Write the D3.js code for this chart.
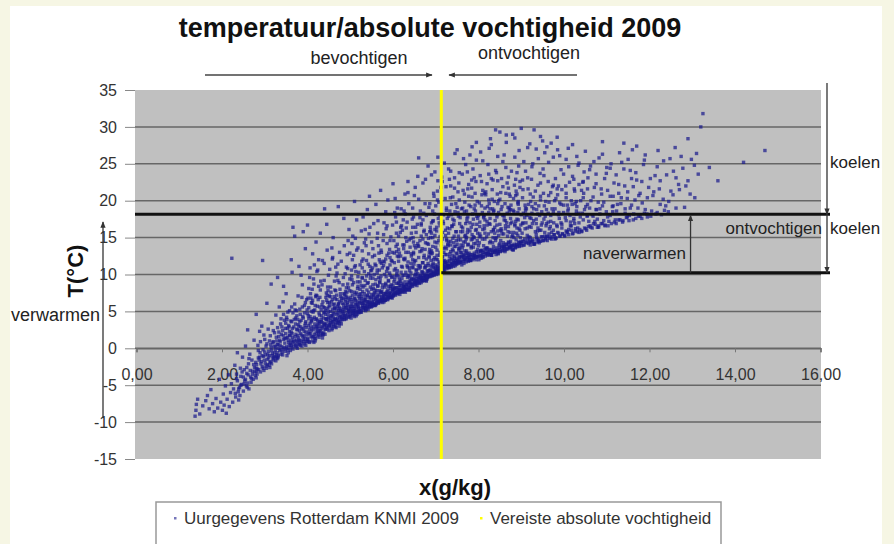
<!DOCTYPE html>
<html><head><meta charset="utf-8">
<script src="https://cdn.jsdelivr.net/npm/d3@7"></script>
<style>body{margin:0;background:#f6f6e4}svg{display:block}</style>
</head><body><svg id="c" width="894" height="544"></svg>
<script>
const yTicks = [-15,-10,-5,0,5,10,15,20,25,30,35];
const xTicks = [0,2,4,6,8,10,12,14,16];
const vereisteX = 7.13;      // vereiste absolute vochtigheid (g/kg)
const grensBoven = 18.16;    // °C
const grensOnder = 10.24;    // °C
const naverwarmenX = 12.96;  // g/kg, positie pijl
// Uurgegevens Rotterdam KNMI 2009, as flat pairs: x (g/kg), T (°C)
const uurXT = [
1.37,-9.2,1.39,-8.4,1.4,-7.6,1.43,-6.9,1.48,-8.9,1.55,-7.8,
1.62,-7.1,1.66,-6.4,1.7,-8.2,1.74,-5.6,1.78,-7.5,1.82,-8.6,1.86,-6.8,1.9,-8.1,1.94,-4.2,1.97,-7.3,
2.01,-8.4,2.03,-6.2,2.05,-7.7,2.08,-5.1,2.1,-8.8,2.12,-6.9,2.15,-3.6,2.17,-7.9,2.2,-6.0,2.22,-4.8,2.25,-7.3,2.27,-5.5,2.3,-2.3,2.32,-6.6,2.34,-4.1,2.36,-0.6,2.38,-5.9,2.39,-7.0,2.23,12.2,
2.41,-5.3,2.42,-6.4,2.44,-3.8,2.46,-4.9,2.48,-1.2,2.5,-5.8,2.52,-2.9,2.53,-4.4,2.55,0.3,2.57,-5.1,2.58,-3.4,2.6,-4.7,2.62,-2.1,2.63,-5.5,2.65,-0.8,2.67,-3.9,2.68,-4.6,2.7,-1.6,2.72,-3.1,2.73,-4.2,2.75,1.1,2.76,-2.6,2.78,-3.7,2.79,-1.9,2.8,-4.0,
2.81,-2.2,2.82,-3.5,2.84,0.4,2.85,-1.3,2.86,-2.9,2.88,2.3,2.89,-0.6,2.9,-3.2,2.92,-1.8,2.93,3.0,2.94,-2.5,2.96,-0.2,2.97,-1.1,2.98,-3.0,3.0,1.2,3.01,-2.0,3.02,-0.9,3.04,-2.7,3.05,0.6,3.06,-1.5,3.08,2.6,3.09,-0.4,3.1,-2.3,3.11,-1.0,3.13,1.7,3.14,-1.8,3.15,0.1,3.16,-2.1,3.17,3.4,3.18,-0.7,3.19,-1.4,3.2,0.9,2.95,11.9,3.12,-2.6,2.87,-1.6,
3.21,-1.6,3.22,0.3,3.23,2.1,3.24,-1.1,3.25,-0.2,3.26,4.5,3.27,-1.3,3.28,1.0,3.29,-0.6,3.3,2.8,3.31,0.5,3.32,-1.0,3.33,1.6,3.34,5.6,3.35,-0.3,3.36,0.9,3.37,3.3,3.38,-0.8,3.39,1.9,3.4,0.2,3.41,-0.5,3.42,2.4,3.43,6.3,3.44,1.2,3.45,-0.1,3.46,3.8,3.47,0.7,3.48,-0.4,3.49,2.0,3.5,1.4,3.51,4.2,3.52,0.0,3.53,2.7,3.54,-0.2,3.55,1.1,3.56,3.1,3.57,0.4,3.58,5.1,3.59,1.7,3.6,0.6,3.44,8.4,3.52,-1.0,3.3,-1.4,3.38,4.0,3.58,2.3,
3.61,0.1,3.62,2.2,3.63,3.6,3.64,0.8,3.65,1.5,3.66,16.4,3.66,4.8,3.67,0.3,3.68,2.9,3.69,1.1,3.7,6.0,3.71,0.6,3.72,3.3,3.73,1.9,3.74,0.2,3.75,4.4,3.76,2.5,3.77,0.9,3.78,7.1,3.79,1.4,3.8,3.0,3.81,0.5,3.82,5.3,3.83,2.0,3.84,1.0,3.85,3.8,3.86,0.7,3.87,2.6,3.88,8.6,3.89,1.6,3.9,4.1,3.91,0.9,3.92,2.3,3.93,5.8,3.94,1.3,3.95,3.4,3.96,0.4,3.97,2.8,3.98,6.6,3.99,1.8,4.0,4.7,3.7,15.2,3.64,10.3,3.85,9.9,3.93,0.6,3.62,1.1,3.77,3.9,3.81,2.4,3.9,1.2,3.96,3.6,3.71,5.2,3.87,6.9,3.99,0.9,3.75,1.1,3.83,4.6,
4.01,1.2,4.02,3.1,4.03,5.5,4.04,2.0,4.05,0.8,4.06,4.3,4.07,7.4,4.08,1.6,4.09,3.6,4.1,2.4,4.11,6.1,4.12,1.0,4.13,4.9,4.14,2.9,4.15,8.7,4.16,1.9,4.17,3.3,4.18,5.8,4.19,1.3,4.2,2.6,4.21,4.0,4.22,10.4,4.23,1.7,4.24,3.8,4.25,6.6,4.26,2.2,4.27,1.5,4.28,4.5,4.29,3.0,4.3,7.9,4.31,1.8,4.32,5.2,4.33,2.7,4.34,3.5,4.35,1.4,4.36,6.3,4.37,4.1,4.38,2.1,4.39,9.2,4.4,3.2,4.3,15.6,4.12,12.8,4.05,2.6,4.11,4.0,4.17,1.4,4.24,2.3,4.29,5.6,4.34,2.0,4.38,4.8,4.08,6.8,4.2,7.2,4.27,3.4,4.36,1.9,4.02,4.4,4.14,5.1,4.22,2.9,4.32,3.9,4.4,5.5,4.16,11.3,4.26,8.4,
4.41,2.6,4.42,4.6,4.43,6.9,4.44,3.1,4.45,2.8,4.46,5.4,4.47,8.3,4.48,3.7,4.49,4.2,4.5,2.9,4.51,6.2,4.52,10.7,4.53,3.4,4.54,5.0,4.55,7.6,4.56,3.0,4.57,4.4,4.58,12.1,4.59,3.6,4.6,5.9,4.61,3.2,4.62,4.8,4.63,9.1,4.64,3.9,4.65,6.7,4.66,3.3,4.67,5.3,4.68,7.2,4.69,3.5,4.7,4.1,4.71,11.4,4.72,3.8,4.73,6.0,4.74,4.5,4.75,3.4,4.76,8.0,4.77,5.1,4.78,3.7,4.79,6.5,4.8,4.0,4.45,4.0,4.5,5.6,4.55,3.5,4.6,4.3,4.65,2.9,4.7,5.7,4.75,6.3,4.48,7.8,4.58,6.6,4.68,4.6,4.78,4.9,4.43,3.3,4.53,4.1,4.63,5.4,4.73,3.6,4.57,13.6,4.72,19.2,4.62,7.0,4.52,3.2,4.42,5.1,4.67,9.8,4.77,7.0,4.47,6.2,4.61,3.9,4.74,5.5,
4.81,4.2,4.82,6.1,4.83,8.6,4.84,4.7,4.85,5.5,4.86,3.9,4.87,7.3,4.88,10.1,4.89,4.4,4.9,5.8,4.91,4.0,4.92,6.9,4.93,12.7,4.94,4.8,4.95,5.2,4.96,8.2,4.97,4.3,4.98,6.4,4.99,9.4,5.0,4.6,5.01,5.7,5.02,4.1,5.03,7.7,5.04,14.2,5.05,5.0,5.06,6.3,5.07,4.5,5.08,8.9,5.09,5.4,5.1,4.3,5.11,6.8,5.12,11.2,5.13,4.9,5.14,5.9,5.15,7.5,5.16,4.6,5.17,6.0,5.18,9.7,5.19,5.3,5.2,4.8,4.84,5.9,4.9,7.1,4.96,5.1,5.02,6.6,5.08,5.6,5.14,4.4,5.2,7.0,4.87,4.5,4.93,6.2,4.99,4.9,5.05,7.2,5.11,5.1,5.17,8.1,4.82,5.0,4.88,6.6,4.94,8.7,5.0,5.4,5.06,4.7,5.12,6.5,5.18,5.7,4.97,16.1,5.1,19.9,5.03,10.6,4.91,5.5,5.15,13.3,
5.21,5.0,5.22,6.8,5.23,9.0,5.24,5.4,5.25,7.4,5.26,4.9,5.27,11.8,5.28,6.1,5.29,5.6,5.3,8.3,5.31,5.2,5.32,6.5,5.33,10.4,5.34,5.8,5.35,7.0,5.36,5.1,5.37,13.9,5.38,6.3,5.39,5.5,5.4,8.8,5.41,6.0,5.42,5.3,5.43,7.6,5.44,15.5,5.45,6.4,5.46,5.7,5.47,9.5,5.48,6.9,5.49,5.6,5.5,8.0,5.51,6.2,5.52,12.4,5.53,5.9,5.54,7.2,5.55,6.6,5.56,10.0,5.57,6.0,5.58,7.9,5.59,5.8,5.6,9.3,5.23,6.1,5.29,7.7,5.35,5.4,5.41,7.1,5.47,6.0,5.53,8.6,5.59,6.7,5.26,8.5,5.32,5.5,5.38,9.8,5.44,6.2,5.5,5.8,5.56,7.5,5.22,5.1,5.28,10.9,5.34,6.6,5.4,5.7,5.46,11.1,5.52,6.3,5.58,5.9,5.3,17.8,5.45,20.6,5.36,14.8,5.55,16.9,5.25,6.4,
5.61,6.0,5.62,7.8,5.63,10.2,5.64,6.4,5.65,8.5,5.66,6.1,5.67,12.9,5.68,7.1,5.69,6.6,5.7,9.4,5.71,6.3,5.72,7.6,5.73,11.5,5.74,6.8,5.75,8.2,5.76,6.2,5.77,14.6,5.78,7.4,5.79,6.7,5.8,10.0,5.81,7.0,5.82,6.5,5.83,8.8,5.84,16.2,5.85,7.3,5.86,6.6,5.87,10.8,5.88,7.9,5.89,6.8,5.9,9.1,5.91,7.2,5.92,13.4,5.93,6.9,5.94,8.4,5.95,7.6,5.96,11.9,5.97,6.9,5.98,9.7,5.99,7.1,6.0,8.1,5.63,7.0,5.69,8.9,5.75,6.5,5.81,8.3,5.87,7.0,5.93,9.9,5.99,7.7,5.66,9.6,5.72,6.4,5.78,11.2,5.84,7.5,5.9,6.9,5.96,8.6,5.62,6.2,5.68,12.0,5.74,7.7,5.8,6.5,5.86,12.6,5.92,7.4,5.98,6.8,5.71,21.4,6.0,22.3,5.83,18.5,5.95,15.1,5.65,17.3,
6.01,7.1,6.02,9.0,6.03,11.6,6.04,7.5,6.05,9.7,6.06,7.2,6.07,13.8,6.08,8.2,6.09,7.7,6.1,10.5,6.11,7.4,6.12,8.8,6.13,12.4,6.14,7.9,6.15,9.3,6.16,7.3,6.17,15.7,6.18,8.5,6.19,7.8,6.2,11.1,6.21,8.1,6.22,7.6,6.23,9.9,6.24,17.4,6.25,8.4,6.26,7.7,6.27,12.0,6.28,9.0,6.29,7.9,6.3,10.3,6.31,8.3,6.32,14.5,6.33,8.0,6.34,9.6,6.35,8.7,6.36,13.0,6.37,8.0,6.38,10.9,6.39,8.2,6.4,9.2,6.03,8.1,6.09,10.1,6.15,7.6,6.21,9.5,6.27,8.1,6.33,11.2,6.39,8.9,6.06,10.8,6.12,7.5,6.18,12.5,6.24,8.6,6.3,8.0,6.36,9.8,6.02,7.3,6.08,13.1,6.14,8.9,6.2,7.7,6.26,14.0,6.32,8.6,6.38,7.9,6.1,19.0,6.35,21.1,6.2,16.6,6.29,18.2,6.05,20.3,
6.41,8.3,6.42,10.2,6.43,12.8,6.44,8.7,6.45,11.0,6.46,8.4,6.47,15.0,6.48,9.4,6.49,8.9,6.5,11.8,6.51,8.6,6.52,10.0,6.53,13.6,6.54,9.1,6.55,10.6,6.56,8.5,6.57,16.8,6.58,9.7,6.59,9.0,6.6,12.3,6.61,9.3,6.62,8.8,6.63,11.2,6.64,18.6,6.65,9.6,6.66,8.9,6.67,13.2,6.68,10.3,6.69,9.1,6.7,11.6,6.71,9.5,6.72,15.8,6.73,9.2,6.74,10.9,6.75,9.9,6.76,14.3,6.77,9.2,6.78,12.1,6.79,9.4,6.8,10.5,6.43,9.3,6.49,11.4,6.55,8.8,6.61,10.8,6.67,9.3,6.73,12.6,6.79,10.1,6.46,12.0,6.52,8.7,6.58,13.9,6.64,9.8,6.7,9.2,6.76,11.0,6.42,8.5,6.48,14.4,6.54,10.1,6.6,8.9,6.66,15.2,6.72,9.8,6.78,9.1,6.6,25.8,6.5,20.7,6.7,22.4,6.45,17.5,6.75,19.6,
6.81,9.6,6.82,11.5,6.83,14.1,6.84,9.9,6.85,12.3,6.86,9.7,6.87,16.4,6.88,10.6,6.89,10.1,6.9,13.2,6.91,9.8,6.92,11.3,6.93,15.0,6.94,10.4,6.95,12.0,6.96,9.9,6.97,18.2,6.98,11.0,6.99,10.2,7.0,13.7,7.01,10.5,7.02,10.0,7.03,12.6,7.04,20.1,7.05,10.8,7.06,10.1,7.07,14.6,7.08,11.7,7.09,10.3,7.1,13.0,7.11,10.7,7.12,17.1,7.13,10.4,7.14,12.2,7.15,11.2,7.16,15.7,7.17,10.5,7.18,13.5,7.19,10.6,7.2,11.9,6.83,10.5,6.89,12.8,6.95,10.0,7.01,12.1,7.07,10.6,7.13,14.0,7.19,11.4,6.86,13.4,6.92,9.9,6.98,15.3,7.04,11.1,7.1,10.5,7.16,12.4,6.82,9.8,6.88,16.0,6.94,11.5,7.0,10.1,7.06,17.6,7.12,11.2,7.18,10.4,6.9,23.5,7.05,25.9,6.95,21.0,7.15,22.6,7.0,19.3,
7.21,10.6,7.22,12.7,7.23,15.3,7.24,11.0,7.25,13.5,7.26,10.8,7.27,17.6,7.28,11.8,7.29,11.2,7.3,14.4,7.31,10.9,7.32,12.4,7.33,16.2,7.34,11.5,7.35,13.1,7.36,11.0,7.37,19.5,7.38,12.1,7.39,11.3,7.4,14.9,7.41,11.6,7.42,11.1,7.43,13.8,7.44,21.7,7.45,11.9,7.46,11.2,7.47,15.8,7.48,12.9,7.49,11.4,7.5,14.1,7.51,11.8,7.52,18.4,7.53,11.5,7.54,13.3,7.55,12.3,7.56,16.9,7.57,11.6,7.58,14.7,7.59,11.7,7.6,13.0,7.23,11.7,7.29,13.9,7.35,11.1,7.41,13.2,7.47,11.7,7.53,15.2,7.59,12.5,7.26,14.6,7.32,11.0,7.38,16.6,7.44,12.2,7.5,11.6,7.56,13.6,7.3,24.3,7.45,26.4,7.35,22.0,7.55,23.8,7.4,20.5,7.25,18.7,7.5,19.1,
7.61,11.3,7.62,13.6,7.63,16.3,7.64,11.8,7.65,14.4,7.66,11.5,7.67,18.5,7.68,12.6,7.69,12.0,7.7,15.3,7.71,11.7,7.72,13.2,7.73,17.2,7.74,12.3,7.75,14.0,7.76,11.8,7.77,20.6,7.78,12.9,7.79,12.1,7.8,15.9,7.81,12.4,7.82,11.9,7.83,14.7,7.84,22.8,7.85,12.7,7.86,12.0,7.87,16.8,7.88,13.7,7.89,12.2,7.9,15.0,7.91,12.6,7.92,19.4,7.93,12.3,7.94,14.2,7.95,13.1,7.96,17.9,7.97,12.4,7.98,15.6,7.99,12.5,8.0,13.9,7.65,12.4,7.71,14.8,7.77,11.9,7.83,13.8,7.89,12.5,7.95,16.1,7.68,19.8,7.74,15.7,7.8,12.0,7.86,18.2,7.7,24.9,7.85,27.3,7.75,21.6,7.95,25.5,7.9,23.1,
8.01,12.0,8.02,14.3,8.03,17.1,8.04,12.5,8.05,15.2,8.06,12.2,8.07,19.3,8.08,13.3,8.09,12.7,8.1,16.1,8.11,12.4,8.12,13.9,8.13,18.0,8.14,13.0,8.15,14.8,8.16,12.5,8.17,21.2,8.18,13.6,8.19,12.8,8.2,16.7,8.21,13.1,8.22,12.6,8.23,15.5,8.24,23.6,8.25,13.4,8.26,12.7,8.27,17.6,8.28,14.5,8.29,12.9,8.3,15.8,8.31,13.3,8.32,20.2,8.33,13.0,8.34,15.0,8.35,13.8,8.36,18.7,8.37,13.1,8.38,16.4,8.39,13.2,8.4,14.6,8.05,13.2,8.15,17.4,8.25,19.6,8.35,16.0,8.1,25.4,8.3,27.6,8.2,22.3,8.4,24.1,8.08,20.8,8.28,28.4,
8.41,12.7,8.42,15.0,8.43,17.8,8.44,13.2,8.45,15.9,8.46,12.9,8.47,20.0,8.48,14.0,8.49,13.4,8.5,16.8,8.51,13.1,8.52,14.6,8.53,18.8,8.54,13.7,8.55,15.5,8.56,13.2,8.57,21.9,8.58,14.3,8.59,13.5,8.6,17.4,8.61,13.8,8.62,13.3,8.63,16.2,8.64,24.5,8.65,14.1,8.66,13.4,8.67,18.3,8.68,15.2,8.69,13.6,8.7,16.5,8.71,14.0,8.72,20.9,8.73,13.7,8.74,15.7,8.75,14.5,8.76,19.4,8.77,13.8,8.78,17.1,8.79,13.9,8.8,15.3,8.5,29.3,8.6,26.2,8.7,23.2,8.45,22.7,8.65,27.9,
8.81,13.3,8.82,15.7,8.83,18.5,8.84,13.9,8.85,16.6,8.86,13.6,8.87,20.7,8.88,14.7,8.89,14.1,8.9,17.5,8.91,13.8,8.92,15.3,8.93,19.5,8.94,14.4,8.95,16.2,8.96,13.9,8.97,22.6,8.98,15.0,8.99,14.2,9.0,18.1,9.02,14.5,9.04,17.0,9.06,25.3,9.08,14.8,9.1,19.0,9.12,14.3,9.14,16.3,9.16,21.6,9.18,15.1,9.2,17.7,8.85,28.5,9.0,29.8,8.95,26.8,9.1,24.0,9.15,27.2,8.9,23.8,9.05,14.0,9.19,14.4,8.88,21.3,9.03,20.4,
9.21,14.0,9.23,16.4,9.25,19.2,9.27,14.5,9.29,17.3,9.31,14.2,9.33,21.3,9.35,15.4,9.37,14.8,9.39,18.2,9.41,14.5,9.43,16.0,9.45,20.1,9.47,15.1,9.49,17.0,9.51,14.6,9.53,23.4,9.55,15.7,9.57,14.9,9.59,18.8,9.6,15.2,9.3,29.6,9.5,28.1,9.4,25.7,9.55,26.5,9.25,24.6,9.45,22.4,9.35,27.0,9.22,19.9,9.42,14.3,9.58,16.6,9.28,20.5,9.48,18.5,9.38,15.9,9.52,21.0,
9.61,14.6,9.63,17.1,9.65,19.8,9.67,15.1,9.69,18.0,9.71,14.8,9.73,21.9,9.75,16.0,9.77,15.4,9.79,18.9,9.81,15.0,9.83,16.7,9.85,20.8,9.87,15.6,9.89,17.6,9.91,15.2,9.93,24.2,9.95,16.3,9.97,15.5,9.99,19.4,9.7,27.8,9.9,26.1,9.8,23.0,9.64,25.2,9.84,28.6,9.75,22.1,9.95,21.5,9.68,16.5,9.88,18.4,9.78,20.0,
10.01,15.2,10.03,17.7,10.05,20.4,10.07,15.7,10.09,18.6,10.11,15.4,10.13,22.5,10.15,16.6,10.17,16.0,10.19,19.5,10.21,15.6,10.23,17.3,10.25,21.3,10.27,16.2,10.29,18.2,10.31,15.8,10.33,24.8,10.35,17.0,10.37,16.1,10.39,20.0,10.1,27.1,10.3,26.0,10.2,23.3,10.05,25.6,10.35,22.2,
10.41,15.8,10.43,18.3,10.46,21.0,10.48,16.3,10.51,19.2,10.53,16.0,10.56,23.1,10.58,17.2,10.61,16.6,10.63,20.0,10.66,16.3,10.68,17.9,10.71,21.8,10.73,16.8,10.76,18.8,10.78,16.4,10.5,26.7,10.7,25.3,10.6,24.2,10.45,22.6,10.75,23.6,10.55,18.0,
10.81,16.4,10.84,18.9,10.87,21.6,10.9,16.9,10.93,19.8,10.96,16.6,10.99,23.7,11.02,17.8,11.05,17.2,11.08,20.6,11.11,16.9,11.14,18.5,11.17,22.4,11.2,17.4,10.9,26.3,11.1,25.0,11.0,24.5,11.15,19.3,
11.22,16.9,11.25,19.5,11.28,22.2,11.31,17.4,11.34,20.4,11.37,17.1,11.4,24.3,11.43,18.3,11.46,17.7,11.49,21.2,11.52,17.3,11.55,19.0,11.58,23.0,11.3,26.5,11.5,25.6,
11.62,17.4,11.66,20.1,11.7,22.8,11.74,17.9,11.78,21.0,11.82,17.6,11.86,24.9,11.9,18.8,11.94,18.2,11.98,21.8,11.7,27.4,11.9,26.2,
12.03,17.9,12.08,20.7,12.13,23.4,12.18,18.4,12.23,21.6,12.28,18.1,12.33,25.4,12.38,19.3,
12.44,18.5,12.5,21.3,12.56,24.0,12.62,19.0,12.68,22.2,12.74,26.0,
12.82,19.1,12.9,22.7,12.98,25.6,13.06,20.4,13.14,23.6,13.2,30.0,13.25,31.8,
13.4,24.5,13.6,22.7,14.2,25.2,14.7,26.8,
2.31,-6.1,2.44,-5.0,2.36,-4.4,2.52,-4.8,2.61,-3.6,2.47,-3.2,2.69,-4.1,2.74,-2.2,2.58,-2.6,2.66,-3.0,2.39,-5.5,2.55,-4.2,2.77,-3.2,2.43,-2.7,2.63,-1.4,2.71,-3.5,2.34,-3.5,2.5,-3.9,2.8,-2.7,2.59,-5.3,
2.83,-2.8,2.91,-2.1,2.85,-0.3,2.99,-1.6,3.03,-2.4,2.94,-1.0,3.07,-0.8,3.12,-1.9,3.16,-0.3,3.21,-1.2,3.25,0.2,3.19,0.8,3.28,-0.9,3.03,0.3,2.88,-1.2,2.96,-2.7,3.09,-1.3,3.14,0.5,3.23,-0.6,3.27,1.5,2.81,-3.1,2.9,0.9,3.0,-0.5,3.06,-2.2,3.18,-1.0,3.11,1.0,3.26,-1.7,2.98,1.8,3.2,2.4,3.29,0.5,
3.31,-1.2,3.36,0.4,3.42,-0.9,3.47,1.3,3.33,2.2,3.51,0.2,3.55,-0.6,3.58,1.8,3.62,0.4,3.66,-0.1,3.71,1.6,3.75,2.6,3.79,0.6,3.35,1.1,3.4,2.9,3.45,0.1,3.49,3.4,3.53,1.5,3.57,2.9,3.61,3.7,3.64,2.0,3.68,0.9,3.72,4.1,3.76,0.0,3.78,3.2,3.32,0.0,3.38,-0.2,3.43,1.7,3.48,2.7,3.52,3.9,3.56,0.8,3.6,-0.3,3.65,2.7,3.69,3.9,3.73,0.4,3.77,1.7,3.44,4.6,3.54,4.9,3.63,5.6,3.74,5.1,
3.81,1.1,3.84,2.9,3.87,0.3,3.89,4.3,3.92,1.7,3.94,3.1,3.97,0.9,3.99,5.2,4.02,2.2,4.04,0.9,4.06,3.4,4.09,5.0,4.11,1.5,4.13,2.6,4.16,4.2,4.18,1.0,4.21,3.0,4.23,5.7,4.26,1.9,4.28,3.6,3.82,3.6,3.86,1.8,3.9,2.7,3.93,4.8,3.96,2.2,4.0,1.3,4.03,4.0,4.07,2.0,4.1,3.8,4.14,1.6,4.17,5.2,4.2,2.1,4.24,3.3,4.27,4.8,4.29,2.4,3.83,0.4,3.88,5.6,3.95,6.2,4.01,6.8,4.08,2.9,4.12,6.5,4.19,3.9,4.22,7.1,4.25,2.7,4.15,0.8,
4.31,2.3,4.33,4.4,4.35,2.9,4.37,5.6,4.39,3.4,4.41,1.9,4.43,4.0,4.45,6.5,4.47,2.6,4.49,5.0,4.51,3.1,4.53,7.0,4.55,4.4,4.57,2.5,4.59,5.3,4.61,3.6,4.63,6.0,4.65,4.0,4.67,2.8,4.69,6.6,4.71,3.4,4.73,5.1,4.75,4.2,4.77,7.4,4.79,3.3,4.32,3.6,4.34,5.9,4.36,1.8,4.38,3.1,4.4,4.9,4.42,2.6,4.44,3.9,4.46,7.2,4.48,4.6,4.5,2.4,4.52,5.8,4.54,3.8,4.56,6.3,4.58,2.7,4.6,4.7,4.62,3.0,4.64,5.5,4.66,7.8,4.68,3.8,4.7,4.8,4.72,6.0,4.74,3.0,4.76,5.4,4.78,4.3,4.8,6.8,
4.81,3.9,4.83,5.3,4.85,7.4,4.87,4.2,4.89,6.3,4.91,8.2,4.93,4.5,4.95,6.7,4.97,5.0,4.99,7.8,5.01,4.4,5.03,6.0,5.05,8.6,5.07,5.1,5.09,6.7,5.11,4.6,5.13,7.3,5.15,5.5,5.17,9.0,5.19,4.9,5.21,6.2,5.23,8.0,5.25,5.1,5.27,7.0,5.29,5.8,4.82,4.5,4.84,6.8,4.86,5.0,4.88,4.0,4.9,5.4,4.92,7.6,4.94,5.9,4.96,4.2,4.98,5.6,5.0,6.9,5.02,5.3,5.04,9.3,5.06,5.7,5.08,4.8,5.1,7.6,5.12,6.0,5.14,5.0,5.16,6.4,5.18,8.4,5.2,5.6,5.22,7.3,5.24,4.9,5.26,6.7,5.28,9.6,5.3,6.1,
5.31,5.5,5.33,7.4,5.35,9.2,5.37,5.8,5.39,7.9,5.41,6.3,5.43,10.1,5.45,5.6,5.47,8.3,5.49,6.8,5.51,5.7,5.53,9.5,5.55,7.0,5.57,6.1,5.59,8.7,5.61,6.5,5.63,10.6,5.65,7.3,5.67,6.2,5.69,9.0,5.71,7.6,5.73,6.6,5.75,10.9,5.77,7.2,5.79,6.3,5.32,6.2,5.34,8.5,5.36,6.6,5.38,5.3,5.4,7.2,5.42,8.9,5.44,6.9,5.46,5.9,5.48,10.5,5.5,7.3,5.52,6.0,5.54,8.1,5.56,5.8,5.58,7.5,5.6,11.2,5.62,6.9,5.64,8.4,5.66,6.4,5.68,7.8,5.7,6.5,5.72,9.8,5.74,7.0,5.76,8.6,5.78,6.9,5.8,11.7,
5.81,6.6,5.83,8.6,5.85,10.4,5.87,6.9,5.89,9.2,5.91,7.5,5.93,11.3,5.95,7.0,5.97,9.6,5.99,8.0,6.01,7.3,6.03,10.6,6.05,8.2,6.07,7.4,6.09,9.9,6.11,7.9,6.13,11.8,6.15,8.5,6.17,7.7,6.19,10.3,6.21,8.8,6.23,7.9,6.25,12.1,6.27,8.4,6.29,7.6,5.82,7.4,5.84,9.7,5.86,7.7,5.88,6.6,5.9,8.4,5.92,10.2,5.94,8.1,5.96,7.2,5.98,11.8,6.0,8.5,6.02,7.9,6.04,9.3,6.06,7.6,6.08,8.8,6.1,12.5,6.12,8.2,6.14,9.7,6.16,8.0,6.18,9.1,6.2,7.9,6.22,11.0,6.24,8.3,6.26,9.9,6.28,8.1,6.3,13.0,
6.31,7.9,6.33,9.9,6.35,11.7,6.37,8.3,6.39,10.5,6.41,8.8,6.43,12.5,6.45,8.6,6.47,10.9,6.49,9.3,6.51,8.9,6.53,11.9,6.55,9.5,6.57,9.0,6.59,11.2,6.61,9.4,6.63,13.1,6.65,9.9,6.67,9.3,6.69,11.6,6.71,10.2,6.73,9.5,6.75,13.4,6.77,9.8,6.79,9.4,6.32,8.6,6.34,11.0,6.36,9.0,6.38,7.9,6.4,9.7,6.42,11.5,6.44,9.4,6.46,8.7,6.48,13.0,6.5,9.8,6.52,9.2,6.54,10.6,6.56,9.1,6.58,10.1,6.6,13.8,6.62,9.6,6.64,11.0,6.66,9.5,6.68,10.4,6.7,9.6,6.72,12.3,6.74,9.9,6.76,11.2,6.78,9.7,6.8,14.2,
6.81,9.7,6.83,11.2,6.85,13.0,6.87,10.0,6.89,11.9,6.91,10.3,6.93,13.8,6.95,10.2,6.97,12.3,6.99,10.8,7.01,10.4,7.03,13.3,7.05,11.0,7.07,10.5,7.09,12.6,7.11,10.9,7.13,14.5,7.15,11.3,7.17,10.9,7.19,13.0,7.21,11.6,7.23,11.1,7.25,14.8,7.27,11.4,7.29,11.0,6.82,10.4,6.84,12.5,6.86,10.6,6.88,9.8,6.9,11.1,6.92,12.9,6.94,10.9,6.96,10.1,6.98,14.4,7.0,11.3,7.02,10.6,7.04,12.0,7.06,10.3,7.08,11.5,7.1,15.1,7.12,11.0,7.14,12.4,7.16,10.8,7.18,11.8,7.2,11.0,7.22,13.7,7.24,11.5,7.26,12.7,7.28,11.2,7.3,15.6,6.86,15.8,7.02,16.4,7.18,16.9,6.94,17.3,7.1,18.0,
7.31,11.1,7.33,12.8,7.35,14.5,7.37,11.5,7.39,13.4,7.41,11.8,7.43,15.2,7.45,11.6,7.47,13.8,7.49,12.2,7.51,11.8,7.53,14.7,7.55,12.4,7.57,11.9,7.59,14.0,7.61,12.3,7.63,15.8,7.65,12.7,7.67,12.1,7.69,14.4,7.71,12.9,7.73,12.3,7.75,16.1,7.77,12.6,7.79,12.0,7.32,11.9,7.34,14.0,7.36,12.1,7.38,11.3,7.4,12.6,7.42,14.3,7.44,12.4,7.46,11.5,7.48,15.8,7.5,12.8,7.52,12.0,7.54,13.5,7.56,11.7,7.58,13.0,7.6,16.5,7.62,12.5,7.64,13.9,7.66,12.0,7.68,13.2,7.7,12.2,7.72,15.0,7.74,12.8,7.76,14.1,7.78,12.4,7.8,17.0,
7.81,11.9,7.83,13.6,7.85,15.4,7.87,12.3,7.89,14.2,7.91,12.6,7.93,16.0,7.95,12.4,7.97,14.6,7.99,13.0,8.01,12.5,8.03,15.5,8.05,13.1,8.07,12.6,8.09,14.8,8.11,13.0,8.13,16.6,8.15,13.4,8.17,12.8,8.19,15.1,8.21,13.6,8.23,13.0,8.25,16.9,8.27,13.3,8.29,12.7,7.82,12.7,7.86,14.8,7.9,12.9,7.94,12.0,7.98,13.4,8.02,15.1,8.06,13.2,8.1,12.3,8.14,16.2,8.18,13.5,8.22,12.8,8.26,14.3,8.3,12.6,7.88,17.5,8.0,18.0,8.12,17.7,8.24,18.4,7.96,16.8,8.2,17.2,
8.31,12.6,8.33,14.3,8.35,16.1,8.37,13.0,8.39,14.9,8.41,13.3,8.43,16.7,8.45,13.1,8.47,15.3,8.49,13.7,8.51,13.2,8.53,16.2,8.55,13.8,8.57,13.3,8.59,15.5,8.61,13.7,8.63,17.3,8.65,14.1,8.67,13.5,8.69,15.8,8.71,14.3,8.73,13.7,8.75,17.6,8.77,14.0,8.79,13.4,8.34,13.4,8.38,15.6,8.42,13.6,8.46,12.8,8.5,14.2,8.54,15.9,8.58,14.0,8.62,13.1,8.66,17.0,8.7,14.4,8.74,13.5,8.78,15.1,8.44,18.1,8.6,17.9,8.72,18.6,
8.81,13.4,8.83,15.0,8.85,16.8,8.87,13.7,8.89,15.6,8.91,14.0,8.93,17.4,8.95,13.8,8.97,16.0,8.99,14.4,9.01,13.9,9.03,16.9,9.05,14.5,9.07,14.0,9.09,16.2,9.11,14.4,9.13,18.0,9.15,14.8,9.17,14.2,9.19,16.5,9.21,15.0,9.23,14.4,9.25,18.3,9.27,14.7,9.29,14.1,8.84,14.1,8.9,16.3,8.96,14.3,9.02,15.6,9.08,17.7,9.14,15.3,9.2,14.6,9.26,16.9,8.92,18.4,9.1,18.6,
9.31,14.1,9.33,15.8,9.35,17.5,9.37,14.4,9.39,16.3,9.41,14.7,9.43,18.0,9.45,14.5,9.47,16.7,9.49,15.1,9.51,14.6,9.53,17.5,9.55,15.2,9.57,14.7,9.59,16.9,9.61,15.1,9.63,18.3,9.65,15.5,9.67,14.9,9.69,17.2,9.71,15.7,9.73,15.1,9.75,18.5,9.77,15.4,9.79,14.8,9.36,15.0,9.46,16.0,9.56,17.9,9.66,16.2,9.76,17.0,
9.81,14.9,9.84,16.5,9.87,18.1,9.9,15.2,9.93,17.0,9.96,15.5,9.99,18.4,10.02,15.3,10.05,17.3,10.08,15.8,10.11,16.1,10.14,18.0,10.17,16.6,10.2,15.5,10.23,17.6,10.26,15.9,10.29,18.6,10.32,16.3,10.35,15.7,10.38,17.8,9.85,15.7,9.95,16.8,10.05,15.9,10.15,17.1,10.25,16.9,10.35,18.3,10.1,18.9,10.3,19.2,
10.42,15.9,10.45,17.4,10.48,18.8,10.51,16.2,10.54,17.9,10.57,16.5,10.6,19.0,10.63,16.4,10.66,18.1,10.69,16.9,10.72,17.2,10.75,18.8,10.78,17.5,10.81,16.6,10.84,18.2,10.87,16.9,10.9,19.3,10.93,17.3,10.96,16.7,10.99,18.5,10.55,19.5,10.8,19.8,
11.03,16.6,11.08,18.0,11.13,19.2,11.18,17.1,11.23,18.6,11.28,17.4,11.33,19.6,11.38,17.3,11.43,18.9,11.48,17.8,11.53,18.0,11.58,19.4,11.63,18.2,11.68,17.6,11.73,19.0,11.78,17.9,11.83,19.7,11.88,18.3,11.95,17.8,12.05,18.6,12.15,18.2,12.25,19.5,12.35,18.7,12.45,19.9,
5.05,12.0,5.12,14.9,5.2,10.3,5.28,13.2,5.35,16.1,5.42,11.4,5.5,14.4,5.57,12.6,5.64,15.6,5.72,13.3,5.79,17.0,5.86,14.2,5.93,12.3,5.99,16.7,5.15,17.4,5.4,18.8,5.6,19.5,5.88,20.1,5.52,10.9,5.77,11.8,
6.02,14.6,6.08,17.1,6.13,15.2,6.19,18.9,6.25,13.5,6.31,16.3,6.37,19.6,6.42,14.9,6.48,17.8,6.54,15.7,6.6,20.2,6.66,16.9,6.72,18.3,6.78,15.4,6.84,19.1,6.9,17.0,6.96,20.6,6.04,18.4,6.28,20.9,6.52,21.8,6.76,22.9,6.98,23.9,6.15,12.9,6.4,13.7,6.63,14.6,6.88,15.0,6.22,16.0,6.46,16.4,6.7,17.4,6.93,18.6,6.35,22.6,6.82,24.7,6.58,23.3,
7.02,15.9,7.07,19.8,7.12,21.8,7.17,17.2,7.22,20.3,7.27,16.3,7.32,22.9,7.37,18.1,7.42,16.8,7.47,19.6,7.52,21.2,7.57,17.7,7.62,23.6,7.67,20.9,7.72,18.6,7.77,22.2,7.82,19.2,7.87,24.3,7.92,21.0,7.97,19.9,7.05,22.7,7.2,25.1,7.35,24.0,7.5,26.9,7.65,25.7,7.8,26.2,7.95,27.9,7.1,16.6,7.25,19.0,7.4,17.5,7.55,20.1,7.7,16.9,7.85,20.5,7.15,14.8,7.3,17.9,7.45,18.5,7.6,18.9,7.75,17.8,7.9,18.9,
8.02,19.7,8.07,22.6,8.12,17.9,8.17,20.8,8.22,24.9,8.27,18.9,8.32,21.5,8.37,19.9,8.42,23.8,8.47,18.4,8.52,21.1,8.57,25.3,8.62,19.6,8.67,22.4,8.72,19.0,8.77,24.0,8.82,20.3,8.87,22.9,8.92,19.7,8.97,21.8,8.05,26.6,8.25,27.1,8.45,26.0,8.65,28.9,8.85,25.9,8.15,19.0,8.35,18.5,8.55,19.2,8.75,18.8,8.95,18.9,8.1,21.4,8.3,23.0,8.5,20.2,8.7,21.7,8.9,20.9,8.4,29.6,8.8,29.0,
9.03,22.8,9.09,19.4,9.15,23.1,9.21,20.9,9.27,25.0,9.33,19.6,9.39,22.1,9.45,20.6,9.51,24.3,9.57,19.9,9.63,22.6,9.69,21.1,9.75,25.9,9.81,20.3,9.87,22.0,9.93,19.5,9.99,23.6,10.05,21.0,10.11,24.6,10.17,20.0,10.23,22.9,10.29,19.9,10.35,25.1,10.41,21.4,10.47,23.9,9.2,27.7,9.45,28.7,9.6,27.3,9.85,26.9,10.2,27.6,10.45,20.4,9.12,18.9,9.36,18.8,9.54,19.3,9.72,18.9,9.9,19.7,10.08,19.4,10.26,19.6,
10.55,21.6,10.62,24.7,10.68,20.5,10.75,22.3,10.82,25.8,10.88,20.9,10.95,23.0,11.02,21.4,11.08,24.4,11.15,20.6,11.22,23.5,11.28,21.0,11.35,25.2,11.42,22.0,11.48,20.3,11.55,24.1,11.62,21.9,11.68,23.8,11.75,20.7,11.82,22.6,11.88,25.5,11.95,20.4,12.02,23.0,12.1,21.2,12.18,24.6,12.25,22.7,12.32,20.2,12.4,23.5,12.48,25.7,12.55,20.8,12.62,23.1,12.7,21.5,12.78,24.4,12.85,22.0,12.95,20.9,13.05,24.8,12.6,27.2,12.2,26.8,11.6,26.9,13.1,26.4,12.9,28.4,11.4,27.8,10.9,28.0,
2.6,2.5,2.8,4.6,3.05,6.1,3.15,8.7,3.3,9.6,3.5,7.4,3.62,12.0,3.8,11.1,3.95,13.5,4.05,9.6,4.2,14.4,4.35,11.9,4.45,16.8,4.6,15.0,4.75,13.0,4.85,17.6,4.95,14.6,4.4,18.9,4.0,16.7,3.9,15.8,
4.03,8.1,4.09,6.2,4.14,9.4,4.19,7.0,4.24,10.6,4.29,6.9,4.34,8.6,4.39,11.5,4.44,7.5,4.49,9.9,4.54,8.3,4.59,12.3,4.64,7.9,4.69,10.2,4.74,8.9,4.79,11.8,4.84,9.6,4.89,7.7,4.94,10.8,4.99,12.9,4.06,10.9,4.26,12.0,4.46,13.3,4.66,11.0,4.86,13.9,4.11,8.0,4.31,9.1,4.51,7.1,4.71,9.2,4.91,11.0,
5.03,9.8,5.08,12.6,5.13,10.4,5.18,13.6,5.23,11.3,5.28,9.5,5.33,14.3,5.38,11.9,5.43,12.8,5.48,9.9,5.53,13.5,5.58,11.4,5.63,14.9,5.68,10.6,5.73,13.0,5.78,15.4,5.83,12.1,5.88,10.9,5.93,14.6,5.98,13.0,5.06,15.2,5.26,15.9,5.46,16.4,5.66,13.9,5.86,16.6,5.1,11.0,5.3,12.1,5.5,10.6,5.7,11.7,5.9,12.9,
6.03,12.9,6.08,15.6,6.13,13.4,6.18,16.4,6.23,14.0,6.28,12.2,6.33,17.1,6.38,14.7,6.43,15.6,6.48,12.8,6.53,16.4,6.58,14.2,6.63,17.7,6.68,13.5,6.73,16.0,6.78,18.0,6.83,14.9,6.88,13.0,6.93,17.2,6.98,16.1,6.06,17.8,6.26,18.6,6.46,19.0,6.66,16.7,6.86,19.6,6.1,14.1,6.3,15.0,6.5,13.9,6.7,14.8,6.9,15.6,
7.03,14.3,7.08,17.0,7.13,15.2,7.18,18.1,7.23,16.0,7.28,14.1,7.33,18.6,7.38,16.5,7.43,17.3,7.48,14.6,7.53,17.9,7.58,15.8,7.63,19.0,7.68,15.2,7.73,17.6,7.78,19.4,7.83,16.4,7.88,15.1,7.93,18.6,7.98,17.6,
8.03,16.5,8.09,18.4,8.15,15.6,8.21,19.2,8.27,16.8,8.33,18.9,8.39,17.3,8.45,19.6,8.51,16.0,8.57,18.0,8.63,16.6,8.69,19.1,8.75,16.9,8.81,18.7,8.87,17.2,8.93,19.9,8.99,16.7,9.05,18.3,9.11,17.0,9.17,19.5,9.23,17.6,9.29,18.9,9.35,16.9,9.41,19.3,
7.04,21.3,7.14,23.2,7.24,21.9,7.34,20.4,7.44,23.1,7.54,22.4,7.64,21.4,7.74,23.9,7.84,21.7,7.94,22.6,8.04,23.4,8.14,21.0,8.24,20.1,8.34,22.8,8.44,20.9,8.54,23.0,8.64,21.0,8.74,20.6,8.84,22.1,8.94,24.7,9.04,21.5,9.24,22.9,9.44,23.7,9.64,20.7,9.84,21.6,10.04,22.0,10.24,21.6,10.44,22.5
];
const uurPunten = d3.range(0, uurXT.length, 2).map(i => [uurXT[i], uurXT[i + 1]]);

const W = 894, H = 544;
const FONT = "'Liberation Sans', Arial, sans-serif";
const svg = d3.select('#c');

svg.append('rect').attr('width', W).attr('height', H).attr('fill', '#f6f6e4');
svg.append('rect').attr('x', 10).attr('y', 6).attr('width', 872).attr('height', H).attr('fill', '#ffffff');

const x = d3.scaleLinear().domain([0, 16]).range([136.5, 820.5]);
const y = d3.scaleLinear().domain([-15, 35]).range([459, 90]);
const plotL = 135, plotR = 821;

const defs = svg.append('defs');
defs.append('marker').attr('id', 'arr').attr('viewBox', '0 0 10 10').attr('refX', 9).attr('refY', 5)
  .attr('markerWidth', 5).attr('markerHeight', 5).attr('orient', 'auto')
  .append('path').attr('d', 'M0,1 L10,5 L0,9 Z').attr('fill', '#333');

svg.append('rect').attr('x', plotL).attr('y', y(35)).attr('width', plotR - plotL)
  .attr('height', y(-15) - y(35)).attr('fill', '#c0c0c0');

svg.append('g').selectAll('line').data(yTicks.filter(d => d > -15 && d < 35)).join('line')
  .attr('x1', plotL).attr('x2', plotR).attr('y1', d => y(d)).attr('y2', d => y(d))
  .attr('stroke', '#666').attr('stroke-width', 1.5);

const ya = svg.append('g').attr('transform', `translate(${plotL},0)`)
  .call(d3.axisLeft(y).tickValues(yTicks).tickFormat(d => String(d)).tickSize(10).tickPadding(8));
ya.select('.domain').remove();
ya.selectAll('.tick line').attr('stroke', '#888');
ya.selectAll('text').attr('font-family', FONT).attr('font-size', 16).attr('fill', '#333');

const xa = svg.append('g').attr('transform', `translate(0,${y(0)})`)
  .call(d3.axisBottom(x).tickValues(xTicks)
    .tickFormat(d => d3.format('.2f')(d).replace('.', ',')).tickSize(4).tickPadding(16));
xa.select('.domain').attr('stroke', '#666').attr('stroke-width', 1.5);
xa.selectAll('.tick line').attr('stroke', '#777');
xa.selectAll('text').attr('font-family', FONT).attr('font-size', 16).attr('fill', '#333');

svg.append('g').selectAll('rect').data(uurPunten).join('rect')
  .attr('x', d => x(d[0]) - 1.7).attr('y', d => y(d[1]) - 1.7)
  .attr('width', 3.4).attr('height', 3.4)
  .attr('fill', '#1a1a8c').attr('fill-opacity', 0.72);

svg.append('line').attr('x1', x(vereisteX)).attr('x2', x(vereisteX)).attr('y1', y(35)).attr('y2', y(-15))
  .attr('stroke', '#ffff00').attr('stroke-width', 3);

svg.append('line').attr('x1', plotL).attr('x2', 830).attr('y1', y(grensBoven)).attr('y2', y(grensBoven))
  .attr('stroke', '#111').attr('stroke-width', 3);
svg.append('line').attr('x1', x(vereisteX)).attr('x2', 830).attr('y1', y(grensOnder)).attr('y2', y(grensOnder))
  .attr('stroke', '#111').attr('stroke-width', 3);

const ann = svg.append('g').attr('stroke', '#333').attr('stroke-width', 1.3).attr('fill', 'none');
ann.append('line').attr('x1', x(naverwarmenX)).attr('x2', x(naverwarmenX)).attr('y1', y(grensOnder)).attr('y2', y(grensBoven) + 1).attr('marker-end', 'url(#arr)');
ann.append('line').attr('x1', 827).attr('x2', 827).attr('y1', 83).attr('y2', y(grensBoven)).attr('marker-end', 'url(#arr)');
ann.append('line').attr('x1', 827).attr('x2', 827).attr('y1', y(grensBoven)).attr('y2', y(grensOnder)).attr('marker-end', 'url(#arr)');
ann.append('line').attr('x1', 103).attr('x2', 103).attr('y1', 418).attr('y2', 222).attr('marker-end', 'url(#arr)');
ann.append('line').attr('x1', 205).attr('x2', 432).attr('y1', 75).attr('y2', 75).attr('stroke', '#444').attr('marker-end', 'url(#arr)');
ann.append('line').attr('x1', 577).attr('x2', 449).attr('y1', 75).attr('y2', 75).attr('stroke', '#444').attr('marker-end', 'url(#arr)');

function txt(s, tx, ty, size, anchor, weight, color) {
  return svg.append('text').attr('x', tx).attr('y', ty).text(s)
    .attr('font-family', FONT).attr('font-size', size).attr('text-anchor', anchor || 'start')
    .attr('font-weight', weight || 'normal').attr('fill', color || '#222');
}

txt('temperatuur/absolute vochtigheid 2009', 430, 37, 27, 'middle', 'bold', '#111');
txt('bevochtigen', 359, 64, 18, 'middle');
txt('ontvochtigen', 529, 59, 18, 'middle');
txt('koelen', 830, 168, 17);
txt('ontvochtigen', 822, 234, 17, 'end');
txt('koelen', 830, 234, 17);
txt('naverwarmen', 686, 259, 17, 'end');
txt('verwarmen', 100, 321, 18, 'end');
txt('x(g/kg)', 455, 495, 22, 'middle', 'bold', '#111');
svg.append('text').attr('transform', 'translate(83,271) rotate(-90)').text('T(°C)')
  .attr('font-family', FONT).attr('font-size', 22).attr('font-weight', 'bold')
  .attr('text-anchor', 'middle').attr('fill', '#111');

const lg = svg.append('g');
lg.append('rect').attr('x', 156).attr('y', 502).attr('width', 565).attr('height', 60)
  .attr('fill', '#fff').attr('stroke', '#999').attr('stroke-width', 1.5);
lg.append('rect').attr('x', 174).attr('y', 517).attr('width', 2.5).attr('height', 2.5).attr('fill', '#1a1a8c').attr('fill-opacity', 0.6);
txt('Uurgegevens Rotterdam KNMI 2009', 184, 524, 17, 'start', 'normal', '#333');
lg.append('rect').attr('x', 480).attr('y', 517).attr('width', 2.5).attr('height', 2.5).attr('fill', '#ffff00');
txt('Vereiste absolute vochtigheid', 490, 524, 17, 'start', 'normal', '#333');
</script>
</body></html>
